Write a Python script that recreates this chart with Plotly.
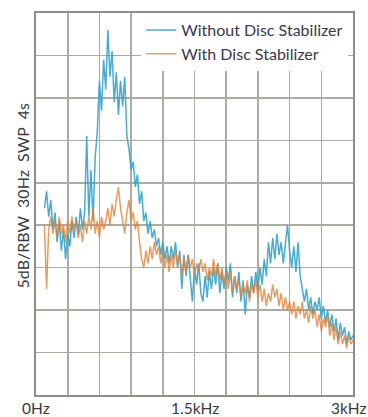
import plotly.graph_objects as go

# Frequency bins of the sweep (Hz)
freq_hz = list(range(80, 3001, 20))

# Level in dB above the bottom graticule line (5 dB / division, 9 divisions)
without_db = [
    22.0, 24.0, 21.0, 23.0, 19.5, 21.5, 18.0, 20.5, 17.0, 19.5,
    16.0, 19.0, 17.5, 20.5, 18.5, 21.0, 19.0, 22.0, 19.5, 21.5,
    30.5, 21.0, 26.5, 20.5, 28.0, 31.0, 37.0, 33.5, 39.5, 36.0,
    43.0, 37.5, 40.5, 34.5, 38.0, 33.0, 37.0, 34.0, 37.5, 30.5,
    29.0, 26.5, 27.5, 24.5, 26.0, 22.5, 24.0, 20.5, 21.5, 19.0,
    20.5, 18.5, 19.5, 17.5, 18.5, 16.5, 18.0, 16.0, 17.5, 15.5,
    17.5, 16.0, 18.0, 15.0, 17.0, 12.5, 16.5, 14.0, 16.5, 13.5,
    11.0, 15.0, 13.0, 15.5, 12.0, 11.0, 14.0, 11.5, 14.5, 12.5,
    15.0, 13.0, 15.5, 12.0, 14.5, 12.5, 15.0, 13.5, 15.5, 11.5,
    14.0, 12.0, 14.5, 11.0, 13.5, 9.5, 13.0, 11.5, 14.0, 12.0,
    14.5, 12.5, 15.0, 13.0, 16.0, 14.0, 18.0, 15.5, 18.5, 16.0,
    19.0, 16.5, 18.0, 15.5, 17.5, 20.0, 17.0, 15.0, 17.5, 14.5,
    18.0, 14.0, 12.5, 11.0, 12.5, 10.0, 11.5, 9.5, 11.0, 10.0,
    11.5, 9.0, 10.5, 8.5, 10.0, 8.0, 9.5, 7.5, 9.0, 6.5,
    8.5, 7.0, 8.0, 6.0, 7.5, 6.5, 7.0,
]

with_db = [
    20.0, 12.5, 19.5, 21.0, 19.0, 20.5, 18.5, 21.0, 19.0, 20.0,
    18.0, 20.5, 19.0, 21.0, 19.5, 20.5, 18.5, 20.0, 18.0, 20.5,
    19.0, 21.0, 19.5, 22.0, 19.0, 20.5, 18.5, 21.0, 19.5, 20.5,
    22.0, 20.0, 22.5, 21.0, 23.0, 24.5, 22.0, 20.5, 19.0, 21.5,
    23.0, 20.5, 21.5, 19.5, 20.5, 18.0, 16.0, 15.0, 17.0, 15.5,
    17.5, 16.0, 18.0, 16.5, 17.5, 15.5, 17.0, 15.0, 16.5, 14.5,
    16.5, 15.0, 17.0, 15.5, 16.5, 14.0, 16.0, 14.5, 16.5, 15.0,
    16.0, 14.0, 15.5, 14.5, 16.0, 14.5, 15.5, 13.5, 15.0, 14.0,
    16.0, 14.0, 15.5, 13.5, 15.0, 13.0, 14.5, 12.5, 14.5, 12.0,
    14.0, 12.5, 13.5, 11.5, 13.0, 12.0, 13.5, 11.0, 13.0, 12.0,
    13.5, 11.5, 13.0, 11.0, 12.5, 10.5, 12.0, 11.0, 13.0, 11.5,
    12.5, 10.5, 12.0, 10.0, 11.5, 10.0, 11.0, 9.5, 11.0, 9.0,
    10.5, 9.5, 11.0, 9.0, 10.0, 8.5, 10.5, 9.0, 10.0, 8.0,
    9.5, 7.5, 9.0, 8.0, 9.5, 7.0, 8.5, 6.5, 8.0, 6.0,
    7.5, 6.0, 7.0, 5.5, 7.0, 6.0, 6.5,
]

series_names = ["Without Disc Stabilizer", "With Disc Stabilizer"]
x_grid_vals = [0, 300, 600, 900, 1200, 1500, 1800, 2100, 2400, 2700, 3000]
x_label_vals = [0, 1500, 3000]
x_label_text = ["0Hz", "1.5kHz", "3kHz"]
y_title = "5dB/RBW\u00a0\u00a030Hz\u00a0\u00a0SWP\u00a0\u00a04s"

FONT = "Lato, Noto Sans, sans-serif"

fig = go.Figure()
fig.add_trace(go.Scatter(
    x=freq_hz, y=without_db, mode="lines", name=series_names[0],
    line=dict(color="#35a3c9", width=1.5), opacity=0.9,
))
fig.add_trace(go.Scatter(
    x=freq_hz, y=with_db, mode="lines", name=series_names[1],
    line=dict(color="#e0843c", width=1.5), opacity=0.8,
))

grid_col = "#a9ada3"
fig.update_xaxes(
    range=[0, 3000], tickvals=x_grid_vals, showticklabels=False,
    showgrid=True, gridcolor=grid_col, gridwidth=1.6,
    showline=True, linecolor="#8c8f86", linewidth=2, mirror=True,
    ticks="", zeroline=False, automargin=False,
)
fig.update_yaxes(
    range=[0, 45], dtick=5, showticklabels=False,
    showgrid=True, gridcolor=grid_col, gridwidth=1.6,
    showline=True, linecolor="#8c8f86", linewidth=2, mirror=True,
    ticks="", zeroline=False, automargin=False,
)
# frequency labels under the graticule
label_shift = [0, 0, -4]
for val, txt, sh in zip(x_label_vals, x_label_text, label_shift):
    fig.add_annotation(
        text=txt, xref="x", yref="paper", x=val, y=-0.034,
        xanchor="center", yanchor="middle", xshift=sh, showarrow=False,
        font=dict(family=FONT, size=15.5, color="#3a3a3a"),
    )
fig.add_annotation(
    text=y_title, textangle=-90, xref="paper", yref="paper",
    x=-0.044, y=0.52, xanchor="center", yanchor="middle", showarrow=False,
    font=dict(family=FONT, size=16, color="#3a3a3a"),
)
fig.update_layout(
    width=368, height=417,
    margin=dict(l=36, r=15, t=13, b=22, autoexpand=False),
    paper_bgcolor="white", plot_bgcolor="white",
    showlegend=True,
    legend=dict(
        x=0.985, xanchor="right", y=1.0, yanchor="top",
        bgcolor="white", borderwidth=0,
        font=dict(family=FONT, size=16, color="#3b3848"),
        itemwidth=30, tracegroupgap=0,
    ),
)
fig.write_html(
    "out.html",
    config={"displayModeBar": False, "staticPlot": True},
    post_script="document.body.style.margin='0';document.body.style.overflow='hidden';",
)
